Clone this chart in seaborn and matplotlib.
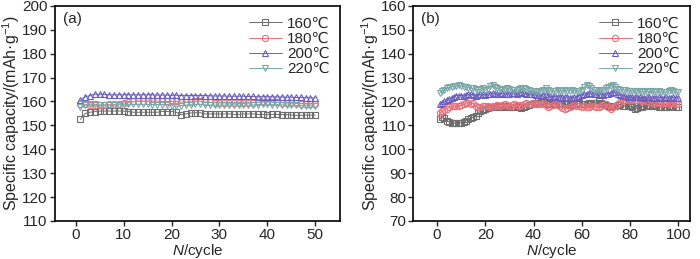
import numpy as np
import pandas as pd
import matplotlib
matplotlib.use('Agg')
import matplotlib.pyplot as plt
import seaborn as sns

temps = ['160℃', '180℃', '200℃', '220℃']

# panel (a): 50 cycles
cycles_a = list(range(1, 51))
a_160 = [152.5, 155, 155.5, 155.8, 156, 156, 156, 156, 156, 156,
         155.8, 155.5, 155.5, 155.5, 155.5, 155.5, 155.5, 155.8, 155.8, 155.8,
         155.5, 154.5, 154.8, 155.2, 155.3, 155.3, 154.8, 154.8, 154.8, 154.8,
         154.8, 154.8, 154.6, 154.6, 154.8, 154.8, 154.8, 154.6, 154.6, 154.5,
         154.6, 154.6, 154.5, 154.5, 154.3, 154.2, 154.2, 154.3, 154.3, 154.3]
a_180 = [159, 158.8, 158.5, 158.5, 158.5, 158.5, 158.8, 158.8, 159, 159.3,
         159.6, 160, 160.2, 160.2, 160.2, 160.2, 160.2, 160, 160, 160,
         160, 159.8, 159.8, 159.8, 160, 160, 159.8, 159.6, 159.5, 159.5,
         159.4, 159.3, 159.3, 159.2, 159.2, 159.3, 159.5, 159.6, 159.8, 159.8,
         159.8, 159.6, 159.5, 159.4, 159.3, 159.2, 159.1, 159, 159, 159]
a_200 = [160.5, 162, 162.5, 163, 163, 163, 162.8, 162.8, 162.8, 162.8,
         162.8, 162.8, 162.8, 162.8, 162.8, 162.8, 162.7, 162.7, 162.7, 162.6,
         162.6, 162.5, 162.5, 162.5, 162.5, 162.5, 162.5, 162.4, 162.3, 162.3,
         162.3, 162.2, 162.2, 162.2, 162.2, 162.1, 162.1, 162, 162, 162,
         162, 161.9, 161.9, 161.8, 161.8, 161.7, 161.7, 161.6, 161.5, 161.5]
a_220 = [157.5, 158.5, 159, 158.8, 158.5, 158.5, 158.5, 158.5, 158.7, 158.8,
         158.8, 158.8, 158.8, 158.8, 158.8, 158.7, 158.7, 158.7, 158.5, 158.2,
         158, 158.3, 158.5, 158.6, 158.8, 158.8, 158.6, 158.5, 158.5, 158.5,
         158.5, 158.6, 158.6, 158.5, 158.4, 158.5, 158.6, 158.7, 158.8, 158.8,
         158.7, 158.7, 158.6, 158.5, 158.5, 158.4, 158.3, 158.2, 158.2, 158]

# panel (b): 100 cycles
cycles_b = list(range(1, 101))
b_160 = [112.5, 113.5, 113, 112, 111.5, 111, 111, 110.8, 111, 111.2,
         111.5, 112, 112.5, 113, 113.5, 114, 115, 116, 116.5, 117,
         117.2, 117.5, 117.5, 117.8, 118, 117.5, 117.5, 118, 117.8, 117.5,
         117.5, 117.8, 118, 117.5, 117.2, 117.5, 118, 118.5, 119, 119.5,
         119.5, 120, 120, 119.8, 119.5, 119, 119, 119.2, 119, 118.8,
         119, 119, 118.8, 118.8, 118.5, 118.8, 119, 119, 119.2, 119,
         118.8, 119, 119.2, 119, 119.2, 119.5, 120, 119.5, 119, 118.5,
         118, 117.5, 118, 118.2, 118.5, 118.8, 118.2, 118, 118.5, 118,
         117.5, 117, 117.2, 117.5, 117.8, 118, 118.5, 118, 118.2, 118.5,
         118, 117.5, 117.5, 117.8, 117.5, 117.8, 118, 118.2, 117.8, 117.5]
b_180 = [115, 116, 116.5, 117, 117.5, 118, 118, 118.2, 118, 118.5,
         119, 119.5, 119.5, 119, 119.2, 118, 117.5, 117.5, 118, 118.2,
         118, 117.8, 118, 118.2, 118.5, 118.2, 118.5, 118.8, 118.5, 118,
         118.5, 119, 118.5, 118.2, 118.5, 119, 119.2, 119, 119, 119.2,
         119, 118.8, 119, 119.2, 118.5, 117.5, 118, 118.5, 118.8, 118.5,
         118, 117.2, 117, 117.2, 117.5, 118, 118.5, 118.2, 118, 117.8,
         118, 117.8, 117.5, 118, 118.2, 117.8, 117.5, 118, 118.5, 118.8,
         117.5, 117, 117.5, 118, 119, 119.8, 120.2, 120.5, 120.5, 120.8,
         120.5, 120.5, 120.8, 120.5, 120.2, 120.5, 120, 119.8, 119.5, 119.5,
         119.2, 119.5, 119, 119.2, 119.5, 119, 119.2, 119.5, 119, 118.8]
b_200 = [119, 119.5, 120, 120.5, 121, 121.5, 122, 122.5, 122.5, 122.5,
         122.5, 122.8, 123, 123, 122.8, 122.5, 122.8, 123, 123, 122.8,
         123, 123.2, 123.5, 123.2, 123, 123.2, 123.5, 123.2, 123, 123.2,
         123.5, 123.5, 123.2, 123.5, 123.8, 123.5, 123.2, 123, 123.2, 123,
         122.8, 122.8, 122.5, 122.8, 123, 122.5, 122.2, 122, 122.2, 122,
         122, 121.8, 121.8, 122, 121.5, 121.5, 121.8, 122, 122.5, 122.8,
         123, 123.2, 123.5, 123.5, 123.2, 123, 123.2, 123, 122.8, 123,
         123.2, 123.5, 124, 123.8, 123.2, 122.8, 122.5, 122.2, 122, 122,
         121.8, 121.8, 122, 121.8, 121.5, 121.5, 121.8, 121.8, 121.5, 121.5,
         121.5, 121.8, 121.5, 121.5, 121.8, 121.5, 121.5, 121.8, 121.5, 121.5]
b_220 = [123.5, 124.5, 125, 125.5, 126, 126.2, 126.5, 126.5, 126.8, 126.5,
         126.2, 126, 125.8, 125.5, 125.5, 125.2, 125, 125.2, 125.5, 125,
         125.2, 126.5, 126.8, 126, 125.5, 125.2, 125, 125.2, 125.5, 125.2,
         125, 124.8, 125, 125.2, 125.5, 125.5, 125.2, 124.8, 124.5, 124.5,
         124.2, 124, 124.5, 125, 125.5, 125, 124.5, 124.2, 124.5, 124.8,
         124.5, 124.5, 124.8, 124.5, 124.5, 124.8, 124.5, 124.2, 124.5, 125,
         126, 127, 126.5, 125.5, 125, 124.8, 124.5, 124.8, 125, 125.5,
         126, 126.5, 126.8, 126, 125.2, 124.8, 125, 124.8, 124.5, 124.5,
         124.5, 124.2, 124, 124.2, 124, 124.2, 124, 124.2, 124.5, 124,
         124, 124.2, 124, 123.8, 124, 124.5, 125, 124.5, 124, 124]

colors = ['#6e6e6e', '#e8707a', '#6a5fc0', '#7aa8a8']
markers = ['s', 'o', '^', 'v']

sns.set_style('ticks')
plt.rcParams['font.family'] = ['Liberation Sans', 'DejaVu Sans']
plt.rcParams['mathtext.fontset'] = 'custom'
plt.rcParams['mathtext.rm'] = 'Liberation Sans'
plt.rcParams['mathtext.it'] = 'Liberation Sans:italic'

fig = plt.figure(figsize=(7, 2.59), dpi=100)
ax_a = fig.add_axes([0.078, 0.147, 0.408, 0.830])
ax_b = fig.add_axes([0.590, 0.147, 0.396, 0.830])

panels = [
    (ax_a, cycles_a, [a_160, a_180, a_200, a_220], (-4.4, 55.2), (110, 200), 10, 10, '(a)'),
    (ax_b, cycles_b, [b_160, b_180, b_200, b_220], (-10, 105), (70, 160), 20, 10, '(b)'),
]

for ax, cyc, series, xlim, ylim, xstep, ystep, tag in panels:
    for vals, lab, c, m in zip(series, temps, colors, markers):
        sns.lineplot(x=cyc, y=vals, ax=ax, color=c, marker=m, markersize=4.5,
                     markerfacecolor='none', markeredgecolor=c, markeredgewidth=0.8,
                     linewidth=0.7, label=lab)
    ax.set_xlim(*xlim)
    ax.set_ylim(*ylim)
    ax.set_xticks(np.arange(0, xlim[1], xstep))
    ax.set_yticks(np.arange(ylim[0], ylim[1] + 1, ystep))
    ax.tick_params(direction='out', length=3.5, width=1, labelsize=11, pad=1.5)
    for sp in ax.spines.values():
        sp.set_visible(True)
        sp.set_linewidth(1.2)
        sp.set_color('black')
    ax.set_xlabel('$\\mathit{N}$/cycle', fontsize=11, labelpad=0)
    ax.set_ylabel('Specific capacity/(mAh·g$^{-1}$)', fontsize=11.5, labelpad=0)
    ax.text(0.03, 0.97, tag, transform=ax.transAxes, fontsize=11, va='top', ha='left')
    ax.legend(loc='upper right', frameon=False, fontsize=11, handlelength=2.2,
              labelspacing=0.08, handletextpad=0.3, borderaxespad=0.3)

fig.savefig('out.png', dpi=100)
